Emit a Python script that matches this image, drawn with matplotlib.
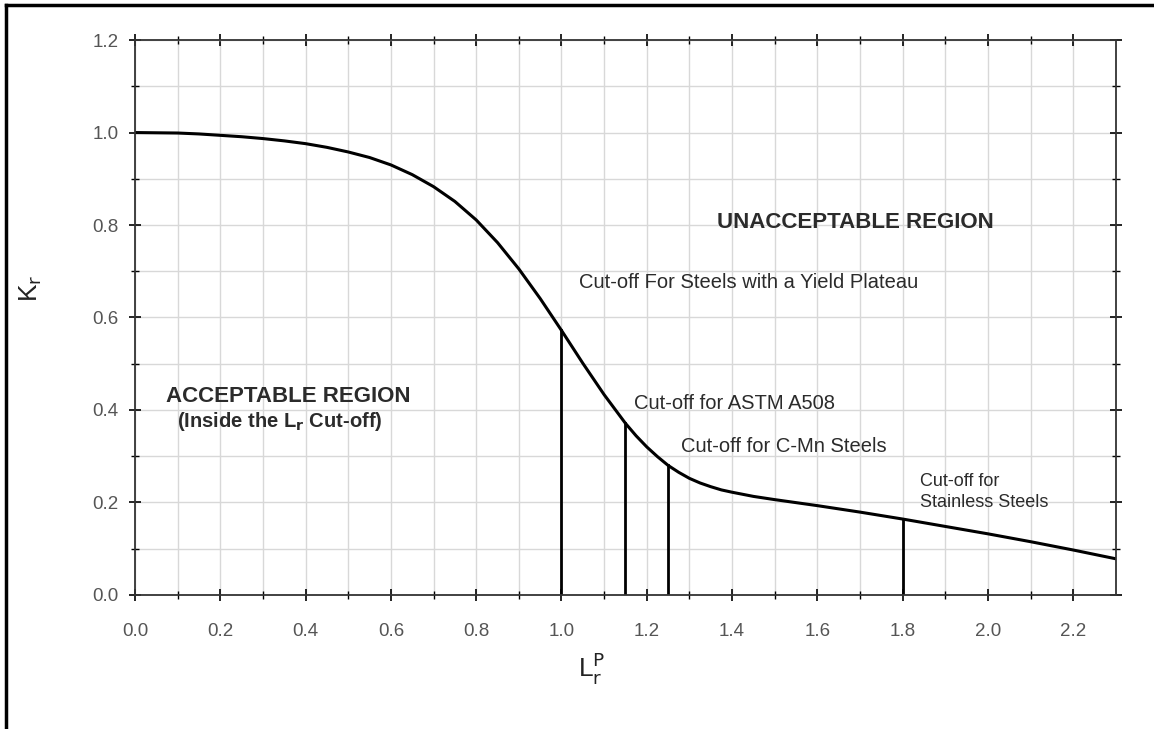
import matplotlib.pyplot as plt
from matplotlib.lines import Line2D
import numpy as np

plt.rcParams['font.family'] = ['Liberation Sans', 'DejaVu Sans']

# failure assessment curve
lr = [0.0, 0.1, 0.15, 0.2, 0.25, 0.3, 0.35, 0.4, 0.45, 0.5, 0.55, 0.6, 0.65,
      0.7, 0.75, 0.8, 0.85, 0.9, 0.95, 1.0, 1.05, 1.1, 1.15, 1.175, 1.2,
      1.225, 1.25, 1.275, 1.3, 1.325, 1.35, 1.375, 1.4, 1.45, 1.5, 1.6, 1.7,
      1.8, 1.9, 2.0, 2.1, 2.2, 2.3]
kr = [1.0, 0.999, 0.997, 0.994, 0.991, 0.987, 0.982, 0.976, 0.968, 0.958,
      0.946, 0.930, 0.909, 0.883, 0.851, 0.811, 0.762, 0.705, 0.641, 0.572,
      0.501, 0.433, 0.371, 0.344, 0.320, 0.299, 0.280, 0.265, 0.252, 0.242,
      0.234, 0.227, 0.222, 0.213, 0.206, 0.193, 0.179, 0.164, 0.148, 0.132,
      0.115, 0.097, 0.078]

# cut-off lines
cut_x = [1.0, 1.15, 1.25, 1.8]
cut_top = [0.572, 0.371, 0.280, 0.164]

xticks = [0.0, 0.2, 0.4, 0.6, 0.8, 1.0, 1.2, 1.4, 1.6, 1.8, 2.0, 2.2]
yticks = [0.0, 0.2, 0.4, 0.6, 0.8, 1.0, 1.2]

fig = plt.figure(figsize=(11.54, 7.29), dpi=100)
ax = fig.add_axes([0.117, 0.184, 0.850, 0.761])

ax.plot(lr, kr, color='black', lw=2.2, solid_joinstyle='round')
for xc, yt in zip(cut_x, cut_top):
    ax.plot([xc, xc], [0, yt], color='black', lw=2.0)

ax.set_xlim(0, 2.3)
ax.set_ylim(0, 1.2)
ax.set_xticks(xticks)
ax.set_xticklabels(['%.1f' % v for v in xticks])
ax.set_yticks(yticks)
ax.set_yticklabels(['%.1f' % v for v in yticks])
ax.set_xticks(np.arange(0.1, 2.3, 0.2), minor=True)
ax.set_yticks(np.arange(0.1, 1.2, 0.2), minor=True)
ax.grid(True, which='both', color='#d8d8d8', lw=1.0)
ax.set_axisbelow(True)

ax.tick_params(which='major', direction='inout', length=8, width=1.2,
               top=True, right=True, labelsize=13.5, labelcolor='#555555')
ax.tick_params(axis='x', which='major', pad=16)
ax.tick_params(axis='y', which='major', pad=8)
ax.tick_params(which='minor', direction='inout', length=6, width=1.0,
               top=True, right=True)
for s in ax.spines.values():
    s.set_linewidth(1.3)
    s.set_color('#333333')

ax.set_xlabel(r'L$_\mathrm{r}^\mathrm{P}$', fontsize=19, color='#222222')
ax.set_ylabel(r'K$_\mathrm{r}$', fontsize=19, color='#222222')
ax.xaxis.set_label_coords(0.466, -0.1)
ax.yaxis.set_label_coords(-0.093, 0.553)

tc = '#2b2b2b'
ax.text(1.69, 0.806, 'UNACCEPTABLE REGION', fontsize=16, weight='bold',
        ha='center', va='center', color=tc)
ax.text(0.36, 0.43, 'ACCEPTABLE REGION', fontsize=16, weight='bold',
        ha='center', va='center', color=tc)
ax.text(0.34, 0.374, r'(Inside the L$_\mathbf{r}$ Cut-off)', fontsize=14.5,
        weight='bold', ha='center', va='center', color=tc)
ax.text(1.04, 0.675, 'Cut-off For Steels with a Yield Plateau', fontsize=14.5,
        ha='left', va='center', color=tc)
ax.text(1.17, 0.415, 'Cut-off for ASTM A508', fontsize=14.5,
        ha='left', va='center', color=tc)
ax.text(1.28, 0.32, 'Cut-off for C-Mn Steels', fontsize=14.5,
        ha='left', va='center', color=tc)
ax.text(1.84, 0.222, 'Cut-off for\nStainless Steels', fontsize=13,
        ha='left', va='center', color=tc, linespacing=1.3)

# frame on left and top edge of the image
fig.add_artist(Line2D([0.005, 0.005], [0.0, 0.993], color='black', lw=2.5,
                      transform=fig.transFigure))
fig.add_artist(Line2D([0.005, 1.0], [0.993, 0.993], color='black', lw=2.5,
                      transform=fig.transFigure))

fig.savefig('out.png', dpi=100)
